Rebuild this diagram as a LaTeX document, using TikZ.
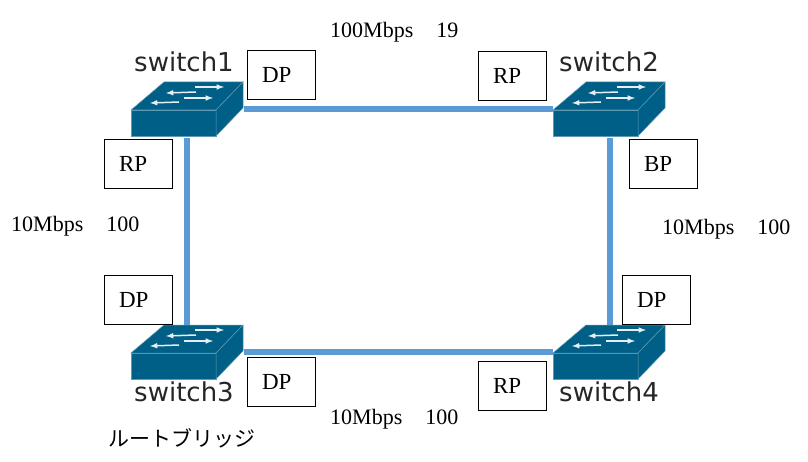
\documentclass[tikz,border=0pt]{standalone}
\usepackage{fontspec}
\setmainfont{Liberation Serif}
\newfontfamily\switchfont{DejaVu Sans}
\newfontfamily\cjkfont{Noto Sans CJK JP}
\usetikzlibrary{arrows}
\definecolor{swblue}{HTML}{005F87}
\definecolor{swedge}{HTML}{5F9AB5}
\definecolor{linkblue}{HTML}{5B9BD5}
\tikzset{
	portbox/.style={draw, line width=0.8pt, text width=38pt, inner xsep=15pt, inner ysep=0pt, minimum height=49pt, font=\fontsize{23}{26}\selectfont},
	linklabel/.style={anchor=west, inner sep=0pt, font=\fontsize{22}{26}\selectfont},
	switchlabel/.style={inner sep=0pt, text=black!85, font=\fontsize{26}{29}\switchfont},
	switchbox/.style={minimum width=112pt, minimum height=54pt, inner sep=0pt},
	link/.style={linkblue, line width=6pt},
	switchicon/.pic={
		\draw [fill=swblue, draw=swedge, line width=0.5pt] (-56,1) -- (29,1) -- (29,27) -- (-56,27) -- cycle;
		\draw [fill=swblue, draw=swedge, line width=0.5pt] (-56,1) -- (-23,-27) -- (56,-27) -- (29,1) -- cycle;
		\draw [fill=swblue, draw=swedge, line width=0.5pt] (29,1) -- (56,-27) -- (56,-1) -- (29,27) -- cycle;
		\draw [->, >=latex, white!90!swblue, line width=1.5pt] (8,-22) -- (37,-22);
		\draw [->, >=latex, white!90!swblue, line width=1.5pt] (9,-17) -- (-21,-16);
		\draw [->, >=latex, white!90!swblue, line width=1.5pt] (-3,-11) -- (26,-11);
		\draw [->, >=latex, white!90!swblue, line width=1.5pt] (-8,-7) -- (-37,-6);
	}
}

\begin{document}
\begin{tikzpicture}[x=1pt, y=-1pt, >=latex]
	\useasboundingbox (0,0) rectangle (808,462);
	%\draw [help lines, step=50] (0,0) grid (808,462);
	% switches
	\node [switchbox] (sw1) at (187,109) {};
	\node [switchbox] (sw2) at (609,109) {};
	\node [switchbox] (sw3) at (187,352) {};
	\node [switchbox] (sw4) at (609,352) {};
	\draw [link] ([xshift=1pt]sw1.east) -- (sw2.west);
	\draw [link] ([yshift=-2pt]sw1.south) -- (sw3.north);
	\draw [link] ([xshift=1pt,yshift=-2pt]sw2.south) -- ([xshift=1pt]sw4.north);
	\draw [link] ([xshift=1pt]sw3.east) -- (sw4.west);
	\pic at (sw1) {switchicon};
	\pic at (sw2) {switchicon};
	\pic at (sw3) {switchicon};
	\pic at (sw4) {switchicon};
	\node [switchlabel] (name1) at (184,62) {switch1};
	\node [switchlabel] (name2) at (609,62) {switch2};
	\node [switchlabel] (name3) at (184,392) {switch3};
	\node [switchlabel] (name4) at (609,392) {switch4};
	% ports
	\node [portbox] (port1a) at (281,75) {DP};
	\node [portbox] (port1b) at (138,164) {RP};
	\node [portbox] (port2a) at (512,76) {RP};
	\node [portbox] (port2b) at (663,164) {BP};
	\node [portbox] (port3a) at (138,300) {DP};
	\node [portbox] (port3b) at (281,382) {DP};
	\node [portbox] (port4a) at (656,300) {DP};
	\node [portbox] (port4b) at (512,386) {RP};
	% link costs
	\node [linklabel] (cost12) at (330,32) {100Mbps\hspace{23pt}19};
	\node [linklabel] (cost13) at (11,226) {10Mbps\hspace{23pt}100};
	\node [linklabel] (cost24) at (662,229) {10Mbps\hspace{23pt}100};
	\node [linklabel] (cost34) at (330,419) {10Mbps\hspace{23pt}100};
	\node [anchor=west, inner sep=0pt, font=\fontsize{21}{25}\cjkfont] (root) at (108,438) {ルートブリッジ};
\end{tikzpicture}
\end{document}
